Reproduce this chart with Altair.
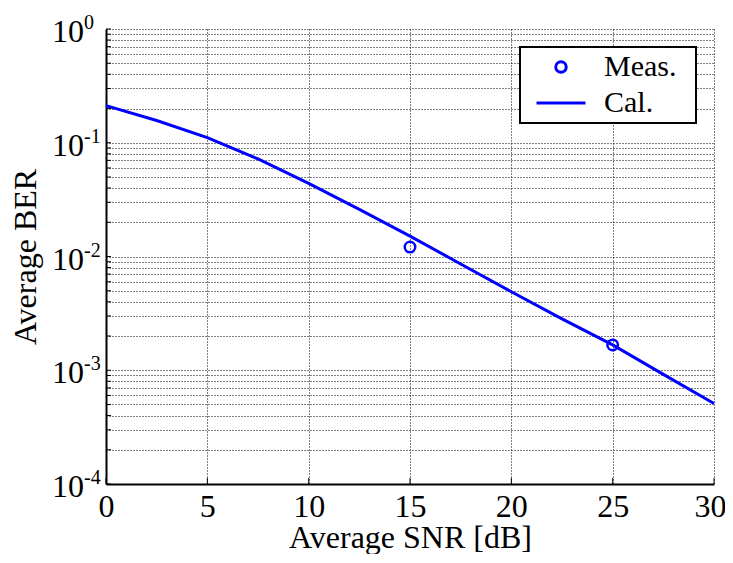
import altair as alt
import pandas as pd

# ---- data ----
snr_cal = [0, 2.5, 5, 7.5, 10, 12.5, 15, 17.5, 20, 22.5, 25, 27.5, 30]
ber_cal = [0.212, 0.157, 0.111, 0.072, 0.044, 0.026, 0.0151, 0.0086, 0.0049,
           0.00283, 0.00167, 0.00092, 0.00051]
snr_meas = [15, 25]
ber_meas = [0.0121, 0.00167]
series = ["Meas.", "Cal."]
x_ticks = [0, 5, 10, 15, 20, 25, 30]
decades = [1, 0.1, 0.01, 0.001, 0.0001]
exponents = ["0", "-1", "-2", "-3", "-4"]
ygrid = [round(m * 10.0 ** k, 6) for k in range(-4, 0) for m in range(1, 10)] + [1]

FONT = "Liberation Serif"
BLUE = "#0000ff"

df_cal = pd.DataFrame({"snr": snr_cal, "ber": ber_cal})
df_meas = pd.DataFrame({"snr": snr_meas, "ber": ber_meas, "series": ["Meas.", "Meas."]})
df_dec = pd.DataFrame({"ber": decades, "base": ["10"] * len(decades), "exp": exponents})
df_ytick = pd.DataFrame({"ber": ygrid})
df_xtick = pd.DataFrame({"snr": x_ticks})

xscale = alt.Scale(domain=[0, 30], nice=False, zero=False)
yscale = alt.Scale(type="log", domain=[1e-4, 1], nice=False)

grid_style = dict(grid=True, gridColor="black", gridDash=[1, 2], gridWidth=1, gridOpacity=1,
                  domainColor="black", domainWidth=2, ticks=False, tickSize=0)

x_axis = alt.Axis(values=x_ticks, title="Average SNR [dB]", labelFont=FONT, labelFontSize=32,
                  labelColor="black", labelBaseline="alphabetic", labelPadding=32,
                  labelFlush=False,
                  labelOffset={"condition": {"test": "datum.value == 30", "value": -4}, "value": 0},
                  titleFont=FONT, titleFontSize=32, titleFontWeight="normal", titleColor="black",
                  titleX=304, titleY=63, titleBaseline="alphabetic", titleAlign="center",
                  **grid_style)
y_axis = alt.Axis(values=ygrid, title="Average BER", labels=False,
                  titleFont=FONT, titleFontSize=32, titleFontWeight="normal", titleColor="black",
                  titleX=-71, titleY=227.5, titleBaseline="alphabetic", titleAlign="center",
                  titleAngle=270, **grid_style)


def X(field=None, datum=None):
    if datum is not None:
        return alt.X(datum=datum, scale=xscale, axis=x_axis)
    return alt.X(field, type="quantitative", scale=xscale, axis=x_axis)


def Y(field=None, datum=None):
    if datum is not None:
        return alt.Y(datum=datum, scale=yscale, axis=y_axis)
    return alt.Y(field, type="quantitative", scale=yscale, axis=y_axis)


line = alt.Chart(df_cal).mark_line(color=BLUE, strokeWidth=3).encode(
    x=X("snr"), y=Y("ber"),
)

leg = dict(orient="none", legendX=414, legendY=18, title=".", titleOrient="right",
           titleColor="white", titleFontSize=6, titlePadding=13,
           labelFont=FONT, labelFontSize=30,
           labelColor="black", symbolStrokeColor=BLUE, symbolStrokeWidth=3,
           symbolFillColor="transparent", strokeColor="black", fillColor="white",
           padding=5, symbolOffset=10, labelOffset=17, rowPadding=6, clipHeight=30)

points = alt.Chart(df_meas).mark_point(filled=False, strokeWidth=2.5, color=BLUE, opacity=1).encode(
    x=X("snr"), y=Y("ber"),
    shape=alt.Shape("series:N", scale=alt.Scale(domain=series, range=["circle", "stroke"]),
                    legend=alt.Legend(**leg)),
    size=alt.Size("series:N", scale=alt.Scale(type="point", domain=series, range=[110, 2400], padding=0),
                  legend=alt.Legend(**leg)),
)

ytick_marks = alt.Chart(df_ytick).mark_tick(orient="horizontal", size=5, thickness=1,
                                            color="black", xOffset=2.5, opacity=1).encode(
    x=X(datum=0), y=Y("ber"),
)
xtick_marks = alt.Chart(df_xtick).mark_tick(orient="vertical", size=6, thickness=1,
                                            color="black", yOffset=-3, opacity=1).encode(
    x=X("snr"), y=Y(datum=1e-4),
)

lab10 = alt.Chart(df_dec).mark_text(align="right", baseline="alphabetic", dx=-22, dy=13,
                                    font=FONT, fontSize=32, color="black").encode(
    x=X(datum=0), y=Y("ber"), text="base:N",
)
labexp = alt.Chart(df_dec).mark_text(align="left", baseline="alphabetic", dx=-22, dy=0,
                                     font=FONT, fontSize=20, color="black").encode(
    x=X(datum=0), y=Y("ber"), text="exp:N",
)

chart = alt.layer(line, ytick_marks, xtick_marks, points, lab10, labexp).properties(
    width=608, height=455,
    autosize=alt.AutoSizeParams(type="none"),
    padding={"left": 98, "top": 21, "right": 11, "bottom": 70},
    background="white",
).configure_view(stroke=None).configure_legend(strokeWidth=2)

chart.save("out.html", embed_options={"renderer": "svg", "actions": False})
